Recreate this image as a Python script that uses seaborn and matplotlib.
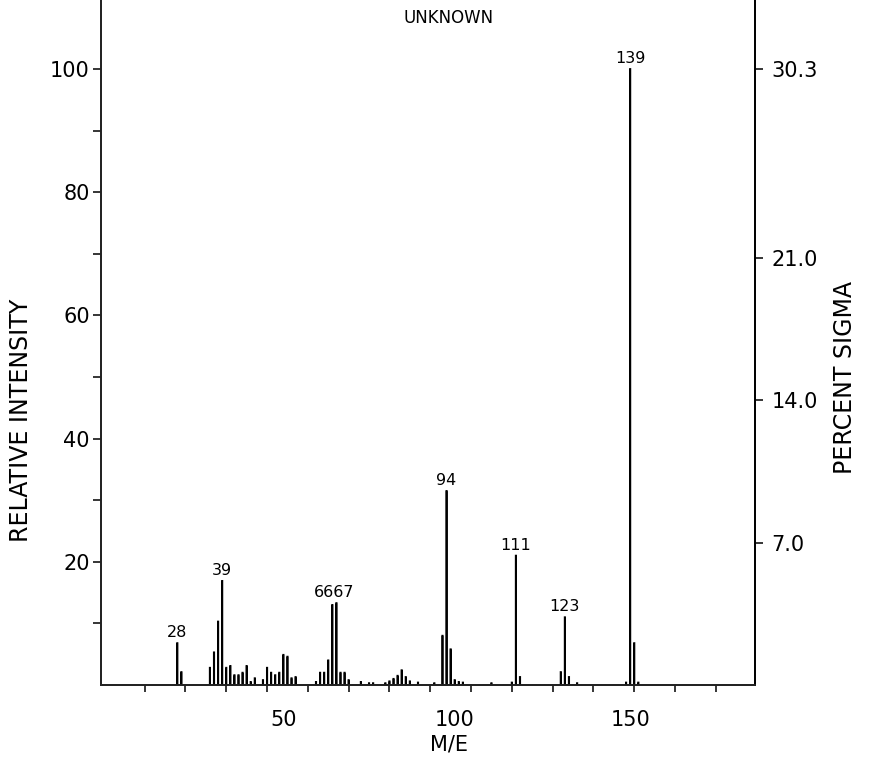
import matplotlib
matplotlib.use("Agg")
import matplotlib.pyplot as plt
import matplotlib.transforms as mtransforms
import seaborn as sns
import pandas as pd

# ---- data ----
mz = [28, 29, 36, 37, 38, 39, 40, 41, 42, 43, 44, 45, 46, 47, 49, 50, 51, 52, 53, 54, 55, 56, 57,
      62, 63, 64, 65, 66, 67, 68, 69, 70, 73, 75, 76, 79, 80, 81, 82, 83, 84, 85, 87, 91,
      93, 94, 95, 96, 97, 98, 105, 110, 111, 112, 122, 123, 124, 126, 138, 139, 140, 141]
intensity = [6.8, 2.1, 2.8, 5.3, 10.3, 16.9, 2.8, 3.1, 1.6, 1.6, 2.0, 3.1, 0.5, 1.1, 0.8, 2.8, 2.0, 1.6, 2.0, 4.9, 4.6, 1.1, 1.3,
             0.5, 2.0, 2.0, 4.0, 13.0, 13.3, 2.0, 2.0, 0.8, 0.5, 0.3, 0.3, 0.3, 0.6, 1.0, 1.5, 2.4, 1.3, 0.6, 0.4, 0.3,
             8.0, 31.5, 5.8, 0.8, 0.5, 0.4, 0.3, 0.4, 21.0, 1.3, 2.1, 11.0, 1.3, 0.3, 0.4, 100.0, 6.8, 0.4]

peak_pos = [28, 39, 66.5, 94, 111, 123, 139]
peak_text = ["28", "39", "6667", "94", "111", "123", "139"]
peak_height = [6.8, 16.9, 13.3, 31.5, 21.0, 11.0, 100.0]

left_ticks = [10, 20, 30, 40, 50, 60, 70, 80, 90, 100]
left_labels = ["", "20", "", "40", "", "60", "", "80", "", "100"]
right_ticks = [7.0, 14.0, 21.0, 30.3]
right_labels = ["7.0", "14.0", "21.0", "30.3"]
x_ticks = [20, 30, 40, 50, 60, 70, 80, 90, 100, 110, 120, 130, 140, 150, 160]
x_label_pos = [54, 96, 139]
x_label_text = ["50", "100", "150"]
sigma_scale = 0.303

df = pd.DataFrame({"mz": mz, "intensity": intensity})

sns.set_theme(style="ticks")
plt.rcParams["font.family"] = ["DejaVu Sans"]
plt.rcParams["text.color"] = "black"
plt.rcParams["xtick.color"] = "black"
plt.rcParams["ytick.color"] = "black"
plt.rcParams["axes.labelcolor"] = "black"

W, H = 871, 761
fig = plt.figure(figsize=(W / 100, H / 100), dpi=100)
ax = fig.add_axes([101 / W, 1 - 685 / H, (755 - 101) / W, 685 / H])

sns.histplot(data=df, x="mz", weights="intensity", discrete=True, shrink=0.08,
             color="black", edgecolor="black", linewidth=1.3, alpha=1, ax=ax)
for p in ax.patches:
    p.set_snap(False)

XMIN, XMAX = 9.3, 169.6
YMAX = 111.2
ax.set_xlim(XMIN, XMAX)
ax.set_ylim(0, YMAX)
ax.set_xlabel("")
ax.set_ylabel("")
ax.set_xticks(x_ticks)
ax.set_xticklabels([])
ax.set_yticks(left_ticks)
ax.set_yticklabels(left_labels, fontsize=15)
ax.tick_params(axis="x", direction="out", length=5, width=1.1, color="black")
ax.tick_params(axis="y", direction="out", length=6, width=1.1, color="black", pad=2)
ax.spines["top"].set_visible(False)
for s in ["left", "right", "bottom"]:
    ax.spines[s].set_linewidth(1.3)
    ax.spines[s].set_color("black")

ax2 = ax.twinx()
ax2.set_ylim(0, YMAX * sigma_scale)
ax2.set_yticks(right_ticks)
ax2.set_yticklabels(right_labels, fontsize=15)
ax2.tick_params(axis="y", direction="out", length=6, width=1.1, color="black", pad=6)
ax2.spines["top"].set_visible(False)
ax2.spines["right"].set_linewidth(1.3)
ax2.spines["right"].set_color("black")
ax2.grid(False)

# x tick labels (placed where the reference prints them)
trans = mtransforms.blended_transform_factory(ax.transData, fig.transFigure)
for xp, t in zip(x_label_pos, x_label_text):
    ax.text(xp, 1 - 720 / H, t, transform=trans, ha="center", va="center", fontsize=15)

# peak labels
for xp, t, h in zip(peak_pos, peak_text, peak_height):
    ax.annotate(t, (xp, h), xytext=(0, 2), textcoords="offset points",
                ha="center", va="bottom", fontsize=11.5)

fig.text(449 / W, 1 - 18 / H, "UNKNOWN", ha="center", va="center", fontsize=12)
fig.text(449 / W, 1 - 745 / H, "M/E", ha="center", va="center", fontsize=15)
fig.text(21 / W, 1 - 420 / H, "RELATIVE INTENSITY", rotation=90, ha="center", va="center", fontsize=17)
fig.text(845 / W, 1 - 378 / H, "PERCENT SIGMA", rotation=90, ha="center", va="center", fontsize=17)

fig.savefig("out.png", dpi=100, facecolor="white")
